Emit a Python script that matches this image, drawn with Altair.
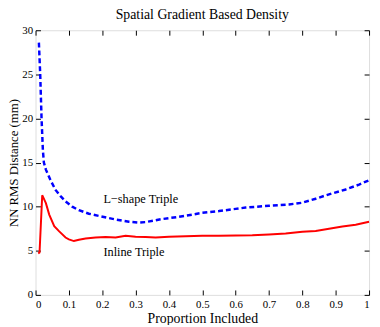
import altair as alt
import pandas as pd

# L-shape Triple (blue dashed)
lshape_x = [0.010, 0.014, 0.018, 0.022, 0.025, 0.031, 0.045, 0.060, 0.075, 0.090,
            0.110, 0.130, 0.160, 0.190, 0.240, 0.280, 0.310, 0.330, 0.380, 0.430,
            0.470, 0.500, 0.550, 0.600, 0.630, 0.700, 0.760, 0.800, 0.840, 0.880,
            0.930, 0.970, 1.000]
lshape_y = [28.6, 25.0, 20.0, 16.4, 15.0, 14.2, 13.0, 11.9, 11.2, 10.6,
            10.0, 9.6, 9.2, 8.95, 8.55, 8.3, 8.2, 8.25, 8.6, 8.85,
            9.1, 9.3, 9.5, 9.75, 9.9, 10.1, 10.25, 10.45, 10.9, 11.4,
            11.95, 12.5, 13.0]

# Inline Triple (red solid)
inline_x = [0.008, 0.012, 0.020, 0.031, 0.041, 0.056, 0.071, 0.090, 0.100, 0.115,
            0.130, 0.150, 0.180, 0.210, 0.240, 0.270, 0.300, 0.330, 0.360, 0.400,
            0.450, 0.500, 0.550, 0.600, 0.650, 0.700, 0.750, 0.800, 0.840, 0.880,
            0.920, 0.960, 1.000]
inline_y = [4.7, 4.8, 11.3, 10.4, 9.1, 7.8, 7.2, 6.5, 6.3, 6.1,
            6.25, 6.4, 6.5, 6.55, 6.5, 6.7, 6.6, 6.55, 6.5, 6.6,
            6.65, 6.7, 6.7, 6.72, 6.75, 6.85, 6.95, 7.15, 7.25, 7.5,
            7.75, 7.95, 8.3]

x_ticks = [0, 0.1, 0.2, 0.3, 0.4, 0.5, 0.6, 0.7, 0.8, 0.9, 1]
y_ticks = [0, 5, 10, 15, 20, 25, 30]

labels_text = ["L\u2212shape Triple", "Inline Triple"]
labels_x = [0.2035, 0.2035]
labels_y = [10.9, 4.9]

FONT = "Liberation Serif"

df_l = pd.DataFrame({"x": lshape_x, "y": lshape_y})
df_i = pd.DataFrame({"x": inline_x, "y": inline_y})
df_t = pd.DataFrame({"x": labels_x, "y": labels_y, "t": labels_text})

xscale = alt.Scale(domain=[0, 1], nice=False, zero=False)
yscale = alt.Scale(domain=[0, 30], nice=False, zero=False)

common_axis = dict(domain=False, grid=False, tickSize=5, offset=-5, tickColor="black",
                   labelFont=FONT, labelFontSize=11, labelColor="black",
                   titleFont=FONT, titleColor="black", titleFontWeight="normal")

x_bottom = alt.Axis(orient="bottom", values=x_ticks, labelPadding=4, title="Proportion Included",
                    titlePadding=2, titleFontSize=14,
                    labelExpr="datum.value == 0 ? '0' : datum.value == 1 ? '1' : format(datum.value, '.1f')",
                    **common_axis)
x_top = alt.Axis(orient="top", values=x_ticks, labels=False, title=None, **common_axis)
y_left = alt.Axis(orient="left", values=y_ticks, labelPadding=3, title="NN RMS Distance (mm)",
                  titlePadding=1, titleFontSize=13, **common_axis)
y_right = alt.Axis(orient="right", values=y_ticks, labels=False, title=None, **common_axis)

blue = alt.Chart(df_l).mark_line(color="#0000ff", strokeWidth=2.5, strokeDash=[5, 3]).encode(
    x=alt.X("x:Q", scale=xscale, axis=x_bottom),
    y=alt.Y("y:Q", scale=yscale, axis=y_left),
)
red = alt.Chart(df_i).mark_line(color="#ff0000", strokeWidth=2).encode(
    x=alt.X("x:Q", scale=xscale, axis=x_top),
    y=alt.Y("y:Q", scale=yscale, axis=y_right),
)
txt = alt.Chart(df_t).mark_text(align="left", baseline="middle", font=FONT, fontSize=12.5, color="black").encode(
    x=alt.X("x:Q", scale=xscale, axis=None),
    y=alt.Y("y:Q", scale=yscale, axis=None),
    text="t:N",
)

chart = alt.layer(blue, red, txt).resolve_axis(x="independent", y="independent").properties(
    width=339,
    height=269,
    autosize=alt.AutoSizeParams(type="none"),
    padding={"left": 28, "top": 20, "right": 3, "bottom": 28},
    title=alt.Title("Spatial Gradient Based Density", font=FONT, fontSize=14,
                    fontWeight="normal", color="black", offset=2, anchor="middle"),
).configure_view(stroke="black", strokeWidth=1).configure(background="white")

chart.save("out.html", embed_options={"renderer": "svg", "actions": False})
